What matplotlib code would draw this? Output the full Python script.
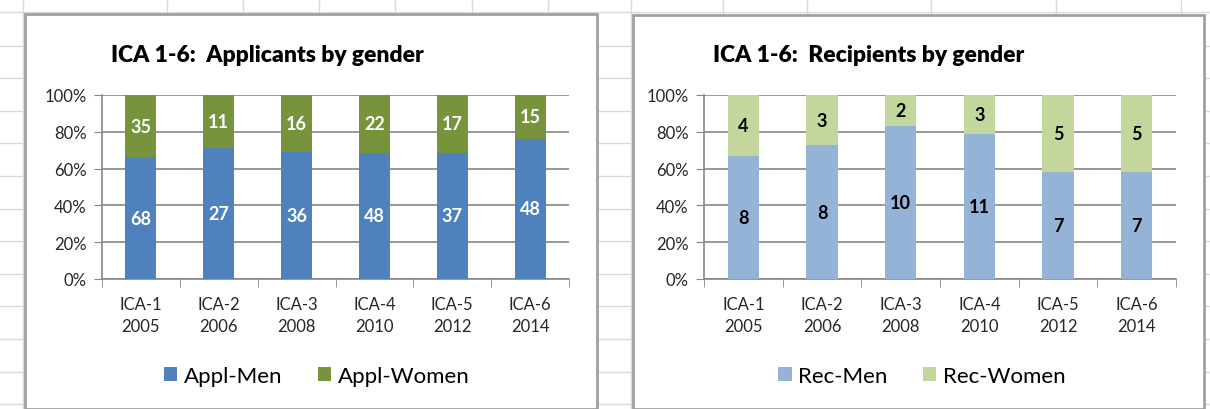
import numpy as np
import matplotlib.pyplot as plt
from matplotlib.lines import Line2D
from matplotlib.patches import Rectangle, Patch

plt.rcParams['font.family'] = ['Lato', 'DejaVu Sans']

# Data
categories = ['ICA-1\n2005', 'ICA-2\n2006', 'ICA-3\n2008', 'ICA-4\n2010', 'ICA-5\n2012', 'ICA-6\n2014']
appl_men = [68, 27, 36, 48, 37, 48]
appl_women = [35, 11, 16, 22, 17, 15]
rec_men = [8, 8, 10, 11, 7, 7]
rec_women = [4, 3, 2, 3, 5, 5]

W, H = 1210, 410
fig = plt.figure(figsize=(W / 100, H / 100), dpi=100)
fig.patch.set_facecolor('white')


def fx(x):
    return x / W


def fy(y):
    return 1 - y / H


# spreadsheet grid in the background
grid_c = '#d9d9d9'
rows = [13, 47, 79, 112, 144, 177, 210, 242, 275, 307, 340, 373, 405]
cols = [23, 167, 243, 319, 395, 472, 548, 631, 723, 807, 931, 1056, 1181]
for r in rows:
    fig.add_artist(Line2D([0, 1], [fy(r), fy(r)], color=grid_c, lw=1, zorder=0))
for c in cols:
    fig.add_artist(Line2D([fx(c), fx(c)], [1, 0], color=grid_c, lw=1, zorder=0))

# chart boxes
for x0, x1, y0 in [(25, 597, 15), (633, 1204, 16)]:
    fig.add_artist(Rectangle((fx(x0), 0), fx(x1) - fx(x0), fy(y0), transform=fig.transFigure,
                             facecolor='white', edgecolor='#a0a0a0', lw=2, zorder=1))


def draw(x0, x1, men, women, c_men, c_women, lbl_color, title, names, box):
    ax = fig.add_axes([fx(x0), fy(280), fx(x1) - fx(x0), fy(96) - fy(280)])
    ax.set_zorder(2)
    men = np.array(men, dtype=float)
    women = np.array(women, dtype=float)
    tot = men + women
    pm = men / tot * 100
    pw = women / tot * 100
    x = np.arange(len(categories))
    ax.bar(x, pm, width=0.4, color=c_men, zorder=3)
    ax.bar(x, pw, width=0.4, bottom=pm, color=c_women, zorder=3)
    for i in range(len(x)):
        ax.text(x[i], pm[i] / 2, f'{int(men[i])}', ha='center', va='center',
                color=lbl_color, fontsize=13, fontweight='bold', zorder=4)
        ax.text(x[i], pm[i] + pw[i] / 2, f'{int(women[i])}', ha='center', va='center',
                color=lbl_color, fontsize=13, fontweight='bold', zorder=4)
    ax.set_xlim(-0.5, len(x) - 0.5)
    ax.set_ylim(0, 100)
    ax.set_yticks(range(0, 101, 20))
    ax.set_yticklabels([f'{v}%' for v in range(0, 101, 20)], fontsize=12, color='#262626')
    ax.set_xticks(x)
    ax.set_xticklabels(categories, fontsize=12, color='#262626', linespacing=1.45)
    ax.set_xticks(np.arange(-0.5, len(x), 1), minor=True)
    ax.tick_params(axis='x', which='major', length=0, pad=12)
    ax.tick_params(axis='x', which='minor', length=6, color='#868686')
    ax.tick_params(axis='y', length=6, color='#868686', pad=5)
    ax.grid(axis='y', color='#868686', lw=1.2, zorder=1)
    for s in ['top', 'right']:
        ax.spines[s].set_visible(False)
    for s in ['left', 'bottom']:
        ax.spines[s].set_color('#868686')
        ax.spines[s].set_linewidth(1.2)
    ax.set_facecolor('white')
    fig.text(fx(x0 + 9), fy(55), title, fontsize=16.5, fontweight='heavy', va='center',
             ha='left', zorder=5)
    handles = [Patch(facecolor=c_men), Patch(facecolor=c_women)]
    fig.legend(handles, names, loc='center', bbox_to_anchor=(fx(box), fy(377)), ncol=2,
               frameon=False, fontsize=16, handlelength=0.6, handleheight=0.6,
               handletextpad=0.3, columnspacing=1.6)


draw(102, 569, appl_men, appl_women, '#4f81bd', '#77933c', 'white',
     'ICA 1-6:  Applicants by gender', ['Appl-Men', 'Appl-Women'], 317)
draw(704, 1176, rec_men, rec_women, '#95b3d7', '#c3d69b', 'black',
     'ICA 1-6:  Recipients by gender', ['Rec-Men', 'Rec-Women'], 922)

fig.savefig('out.png', dpi=100)
